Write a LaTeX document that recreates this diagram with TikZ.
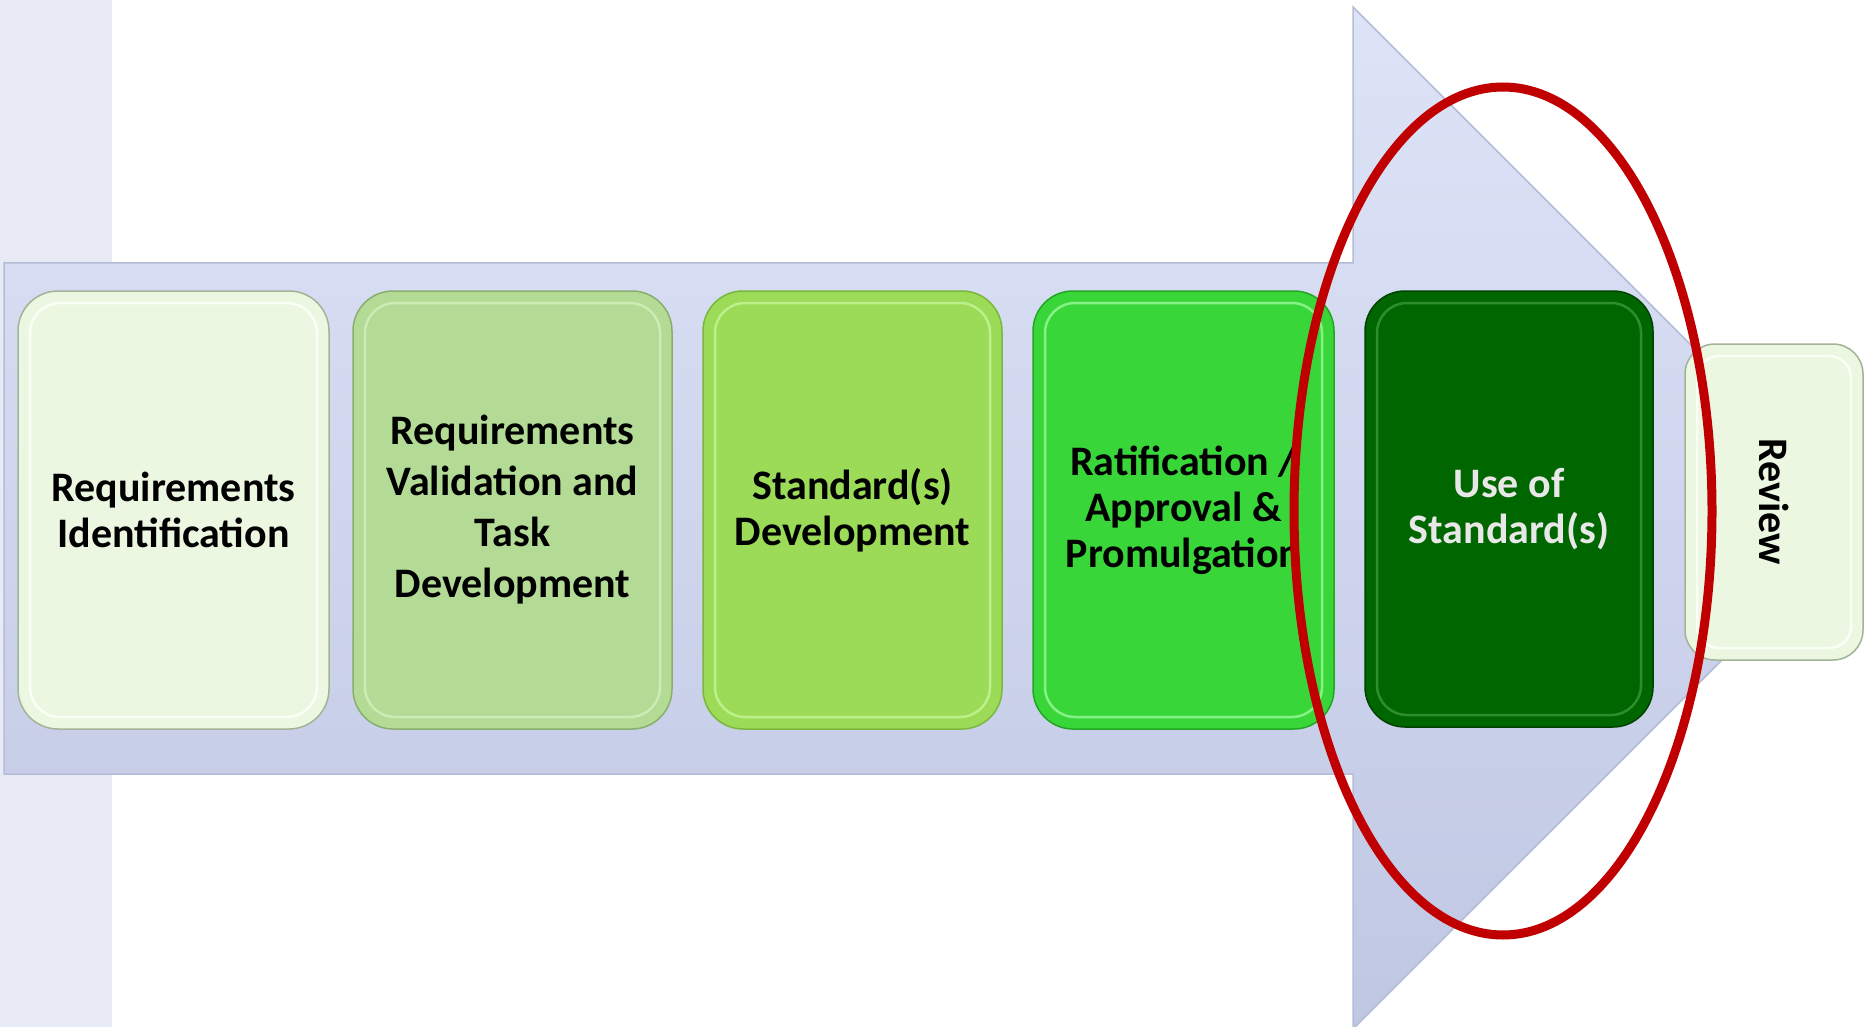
\documentclass[tikz,border=0pt]{standalone}
\usepackage{fontspec}
\setmainfont{Carlito}
\usetikzlibrary{calc}
\definecolor{stripc}{HTML}{E8EBF5}
\definecolor{arrtop}{HTML}{DEE4F7}
\definecolor{arrbot}{HTML}{C0C7E3}
\definecolor{arrline}{HTML}{B4BCD8}
\definecolor{fA}{HTML}{EBF7E1}
\definecolor{bA}{HTML}{A3B396}
\definecolor{hA}{HTML}{FAFFF5}
\definecolor{fB}{HTML}{B3DB95}
\definecolor{bB}{HTML}{8AAE6E}
\definecolor{hB}{HTML}{CDEBB5}
\definecolor{fC}{HTML}{9BDB57}
\definecolor{bC}{HTML}{7AB73C}
\definecolor{hC}{HTML}{BDF08A}
\definecolor{fD}{HTML}{39D63A}
\definecolor{bD}{HTML}{24A625}
\definecolor{hD}{HTML}{86F286}
\definecolor{fE}{HTML}{006600}
\definecolor{bE}{HTML}{004200}
\definecolor{hE}{HTML}{2E8E2E}
\definecolor{txtE}{HTML}{E8E8E8}
\definecolor{ringc}{HTML}{C00000}
\tikzset{
  boxbase/.style={rounded corners=40pt, line width=1.5pt, inner sep=0pt, align=center,
    font=\fontsize{42}{46}\selectfont\bfseries},
  hlbox/.style={rounded corners=30pt, line width=2.5pt, inner sep=0pt},
}
\newcommand\pbox[9]{% name, pos, w, h, fill, border, highlight, text colour, text
  \node[boxbase, fill=#5, draw=#6, text=#8, minimum width=#3, minimum height=#4] (#1) at (#2) {#9};
  \node[hlbox, draw=#7, minimum width=#3-24, minimum height=#4-24] at (#1.center) {};
}
\begin{document}
\begin{tikzpicture}[x=1pt,y=-1pt]
\useasboundingbox (0,0) rectangle (1864,1027);
\clip (0,0) rectangle (1864,1027);
\fill[stripc] (0,0) rectangle (112,1027);
% big arrow
\shade[top color=arrtop, bottom color=arrbot, draw=arrline, line width=1.5pt]
  (4,263) -- (1353,263) -- (1353,7) -- (1864,518) -- (1353,1029) -- (1353,774) -- (4,774) -- cycle;
% boxes
\pbox{b1}{173.5,510}{311}{438}{fA}{bA}{hA}{black}{Requirements\\Identification}
\pbox{b2}{512.5,510}{319}{438}{fB}{bB}{hB}{black}{Requirements\\[5pt]Validation and\\[5pt]Task\\[5pt]Development}
\pbox{b3}{852.5,510}{299}{438}{fC}{bC}{hC}{black}{Standard(s)\\Development}
\pbox{b4}{1183.5,510}{301}{438}{fD}{bD}{hD}{black}{Ratification /\\Approval \&\\Promulgation}
\pbox{b5}{1509,509}{288}{436}{fE}{bE}{hE}{txtE}{Use of\\Standard(s)}
\node[boxbase, rounded corners=30pt, fill=fA, draw=bA, rotate=-90, minimum width=316, minimum height=178] (rv) at (1774,502) {Review};
\node[hlbox, rounded corners=22pt, draw=hA, rotate=-90, minimum width=292, minimum height=154] at (rv.center) {};
% red ring
\draw[ringc, line width=9pt] (1503,511) ellipse [x radius=209, y radius=424];
\end{tikzpicture}
\end{document}
